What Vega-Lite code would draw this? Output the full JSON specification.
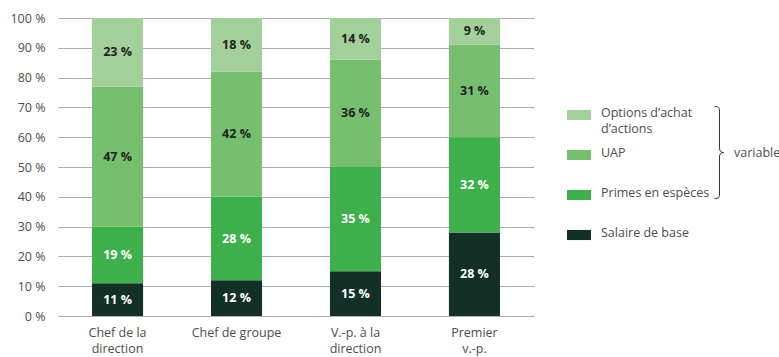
{
  "$schema": "https://vega.github.io/schema/vega-lite/v6.json",
  "width": 476,
  "height": 298,
  "autosize": "none",
  "padding": {"left": 58, "top": 18, "right": 245, "bottom": 41},
  "config": {
    "font": "Open Sans",
    "view": {"stroke": null},
    "axis": {"labelFont": "Open Sans", "labelFontSize": 12.5, "labelColor": "#4d4d4d"}
  },
  "data": {
    "values": [
      {"poste": "Chef de la direction", "composante": "Salaire de base", "ordre": 1, "valeur": 11},
      {"poste": "Chef de la direction", "composante": "Primes en espèces", "ordre": 2, "valeur": 19},
      {"poste": "Chef de la direction", "composante": "UAP", "ordre": 3, "valeur": 47},
      {"poste": "Chef de la direction", "composante": "Options d’achat d’actions", "ordre": 4, "valeur": 23},
      {"poste": "Chef de groupe", "composante": "Salaire de base", "ordre": 1, "valeur": 12},
      {"poste": "Chef de groupe", "composante": "Primes en espèces", "ordre": 2, "valeur": 28},
      {"poste": "Chef de groupe", "composante": "UAP", "ordre": 3, "valeur": 42},
      {"poste": "Chef de groupe", "composante": "Options d’achat d’actions", "ordre": 4, "valeur": 18},
      {"poste": "V.-p. à la direction", "composante": "Salaire de base", "ordre": 1, "valeur": 15},
      {"poste": "V.-p. à la direction", "composante": "Primes en espèces", "ordre": 2, "valeur": 35},
      {"poste": "V.-p. à la direction", "composante": "UAP", "ordre": 3, "valeur": 36},
      {"poste": "V.-p. à la direction", "composante": "Options d’achat d’actions", "ordre": 4, "valeur": 14},
      {"poste": "Premier v.-p.", "composante": "Salaire de base", "ordre": 1, "valeur": 28},
      {"poste": "Premier v.-p.", "composante": "Primes en espèces", "ordre": 2, "valeur": 32},
      {"poste": "Premier v.-p.", "composante": "UAP", "ordre": 3, "valeur": 31},
      {"poste": "Premier v.-p.", "composante": "Options d’achat d’actions", "ordre": 4, "valeur": 9}
    ]
  },
  "transform": [{"calculate": "datum.valeur + ' %'", "as": "etiquette"}],
  "encoding": {
    "x": {
      "field": "poste",
      "type": "nominal",
      "sort": ["Chef de la direction", "Chef de groupe", "V.-p. à la direction", "Premier v.-p."],
      "scale": {"paddingInner": 0.571, "paddingOuter": 0.286},
      "axis": {
        "title": null,
        "labelAngle": 0,
        "domain": false,
        "ticks": false,
        "labelPadding": 10,
        "labelLineHeight": 16,
        "labelExpr": "datum.label == 'Chef de la direction' ? ['Chef de la', 'direction'] : datum.label == 'V.-p. à la direction' ? ['V.-p. à la', 'direction'] : datum.label == 'Premier v.-p.' ? ['Premier', 'v.-p.'] : datum.label"
      }
    }
  },
  "layer": [
    {
      "mark": {"type": "bar"},
      "encoding": {
        "y": {
          "field": "valeur",
          "type": "quantitative",
          "stack": "zero",
          "scale": {"domain": [0, 100], "nice": false},
          "axis": {
            "title": null,
            "values": [0, 10, 20, 30, 40, 50, 60, 70, 80, 90, 100],
            "labelExpr": "datum.value + ' %'",
            "labelOverlap": false,
            "domain": false,
            "ticks": false,
            "labelPadding": 13,
            "grid": true,
            "gridColor": "#ababab",
            "gridWidth": 1
          }
        },
        "color": {
          "field": "composante",
          "type": "nominal",
          "scale": {
            "domain": ["Options d’achat d’actions", "UAP", "Primes en espèces", "Salaire de base"],
            "range": ["#a3d09a", "#76bf6f", "#3daf4b", "#133027"]
          },
          "legend": {
            "orient": "none",
            "legendX": 509,
            "legendY": 85,
            "title": null,
            "padding": 0,
            "symbolType": "M-1,-0.42H1V0.42H-1Z",
            "symbolSize": 576,
            "symbolStrokeWidth": 0,
            "symbolOpacity": 1,
            "labelOffset": 10,
            "labelFont": "Open Sans",
            "labelFontSize": 12.5,
            "labelColor": "#4d4d4d",
            "labelBaseline": "top",
            "labelLimit": 200,
            "gridAlign": "all",
            "rowPadding": 7,
            "labelExpr": "datum.label == 'Options d’achat d’actions' ? ['Options d’achat', 'd’actions'] : datum.label",
            "encode": {"labels": {"update": {"dy": {"value": -8}, "lineHeight": {"value": 16}}}}
          }
        },
        "order": {"field": "ordre", "type": "quantitative"}
      }
    },
    {
      "mark": {"type": "text", "fontWeight": "bold", "fontSize": 12.5, "font": "Open Sans"},
      "encoding": {
        "y": {
          "field": "valeur",
          "type": "quantitative",
          "stack": "zero",
          "bandPosition": 0.5,
          "axis": {
            "title": null,
            "values": [0, 10, 20, 30, 40, 50, 60, 70, 80, 90, 100],
            "labelExpr": "datum.value + ' %'",
            "labelOverlap": false,
            "domain": false,
            "ticks": false,
            "labelPadding": 13,
            "grid": true,
            "gridColor": "#ababab",
            "gridWidth": 1
          }
        },
        "detail": {"field": "composante"},
        "order": {"field": "ordre", "type": "quantitative"},
        "text": {"field": "etiquette"},
        "color": {"condition": {"test": "datum.ordre <= 2", "value": "#ffffff"}, "value": "#222222"}
      }
    },
    {
      "mark": {"type": "point", "opacity": 0},
      "encoding": {
        "shape": {
          "datum": "variable",
          "scale": {"range": ["M-0.11,-1C-0.02,-1 0,-0.98 0,-0.9L0,-0.1C0,-0.03 0.03,0 0.09,0C0.03,0 0,0.03 0,0.1L0,0.9C0,0.98 -0.02,1 -0.11,1"]},
          "legend": {
            "orient": "none",
            "legendX": 615,
            "legendY": 88,
            "title": null,
            "padding": 0,
            "symbolSize": 8464,
            "symbolStrokeWidth": 1,
            "symbolStrokeColor": "#333333",
            "symbolFillColor": "transparent",
            "symbolOpacity": 1,
            "labelOffset": -32,
            "labelFont": "Open Sans",
            "labelFontSize": 12.5,
            "labelColor": "#4d4d4d"
          }
        }
      }
    }
  ]
}
